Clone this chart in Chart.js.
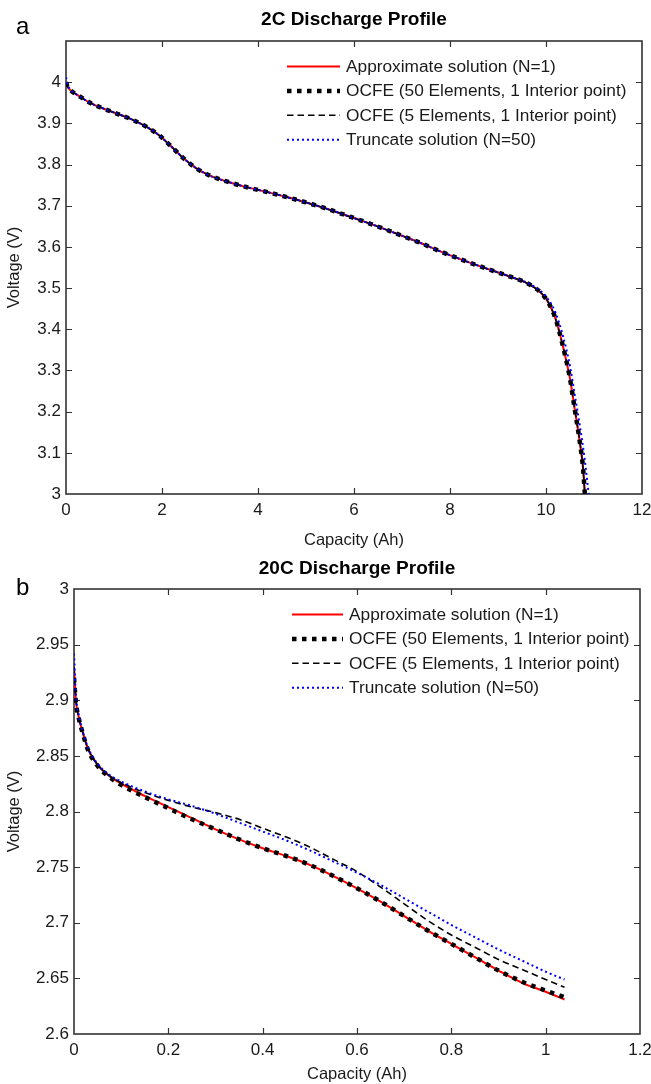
<!DOCTYPE html>
<html>
<head>
<meta charset="utf-8">
<script src="https://cdn.jsdelivr.net/npm/chart.js@4.4.1/dist/chart.umd.min.js"></script>
<style>
html,body{margin:0;padding:0;background:#fff;}
#wrap{position:relative;width:651px;height:1084px;overflow:hidden;background:#fff;}
#w1{position:absolute;left:0;top:0;width:651px;height:550px;}
#w2{position:absolute;left:0;top:550px;width:651px;height:534px;}
canvas{display:block;}
</style>
</head>
<body>
<div id="wrap">
  <div id="w1"><canvas id="c1" width="651" height="550"></canvas></div>
  <div id="w2"><canvas id="c2" width="651" height="534"></canvas></div>
</div>
<script>
// ---------- Panel a: 2C discharge ----------
const seriesNames = [
  'Approximate solution (N=1)',
  'OCFE (50 Elements, 1 Interior point)',
  'OCFE (5 Elements, 1 Interior point)',
  'Truncate solution (N=50)'
];

const a_x = [0, 0.03, 0.1, 0.25, 0.5, 0.8, 1.1, 1.4, 1.7, 1.95, 2.2, 2.45, 2.7, 3.0, 3.4, 3.8, 4.2, 4.6, 5.0, 5.4, 5.8, 6.2, 6.6, 7.0, 7.4, 7.8, 8.2, 8.6, 9.0, 9.3, 9.55, 9.75, 9.9, 10.05, 10.2, 10.35, 10.5, 10.6, 10.7, 10.77, 10.81];
const a_approx = [4.0, 3.99, 3.98, 3.968, 3.95, 3.935, 3.922, 3.908, 3.89, 3.87, 3.843, 3.815, 3.792, 3.773, 3.757, 3.744, 3.733, 3.721, 3.708, 3.694, 3.678, 3.662, 3.645, 3.627, 3.609, 3.589, 3.571, 3.554, 3.538, 3.526, 3.515, 3.502, 3.488, 3.465, 3.425, 3.36, 3.28, 3.205, 3.13, 3.065, 3.0];
const a_ocfe50 = [4.0, 3.99, 3.98, 3.968, 3.95, 3.935, 3.922, 3.908, 3.89, 3.87, 3.843, 3.815, 3.792, 3.773, 3.757, 3.744, 3.733, 3.721, 3.708, 3.694, 3.678, 3.662, 3.645, 3.627, 3.609, 3.589, 3.571, 3.554, 3.538, 3.526, 3.515, 3.502, 3.488, 3.465, 3.425, 3.36, 3.28, 3.205, 3.13, 3.065, 3.0];
const a_ocfe5 = [4.0, 3.99, 3.98, 3.968, 3.95, 3.935, 3.922, 3.908, 3.89, 3.87, 3.843, 3.815, 3.792, 3.773, 3.757, 3.744, 3.733, 3.721, 3.708, 3.694, 3.678, 3.662, 3.645, 3.627, 3.609, 3.589, 3.571, 3.554, 3.538, 3.526, 3.515, 3.502, 3.488, 3.465, 3.425, 3.36, 3.28, 3.205, 3.13, 3.065, 3.0];
const a_x_trunc = [0, 0.03, 0.1, 0.25, 0.5, 0.8, 1.1, 1.4, 1.7, 1.95, 2.2, 2.45, 2.7, 3.0, 3.4, 3.8, 4.2, 4.6, 5.0, 5.4, 5.8, 6.2, 6.6, 7.0, 7.4, 7.8, 8.2, 8.6, 9.0, 9.3, 9.55, 9.75, 9.9, 10.05, 10.2, 10.35, 10.5, 10.6, 10.7, 10.8, 10.86, 10.89];
const a_trunc = [4.012, 3.995, 3.981, 3.968, 3.95, 3.935, 3.922, 3.908, 3.89, 3.87, 3.843, 3.815, 3.792, 3.773, 3.757, 3.744, 3.733, 3.721, 3.708, 3.694, 3.678, 3.662, 3.645, 3.627, 3.609, 3.589, 3.571, 3.554, 3.538, 3.526, 3.516, 3.504, 3.492, 3.472, 3.44, 3.385, 3.31, 3.24, 3.17, 3.09, 3.03, 3.0];

const a_xTicks = [0, 2, 4, 6, 8, 10, 12];
const a_xTickLabels = ['0', '2', '4', '6', '8', '10', '12'];
const a_yTicks = [3, 3.1, 3.2, 3.3, 3.4, 3.5, 3.6, 3.7, 3.8, 3.9, 4];
const a_yTickLabels = ['3', '3.1', '3.2', '3.3', '3.4', '3.5', '3.6', '3.7', '3.8', '3.9', '4'];

// ---------- Panel b: 20C discharge ----------
const b_x = [0, 0.004, 0.01, 0.018, 0.03, 0.05, 0.075, 0.1, 0.15, 0.2, 0.25, 0.3, 0.35, 0.4, 0.45, 0.5, 0.55, 0.6, 0.65, 0.7, 0.75, 0.8, 0.85, 0.9, 0.95, 1.0, 1.04];
const b_approx = [2.93, 2.9, 2.885, 2.872, 2.856, 2.842, 2.832, 2.825, 2.814, 2.804, 2.794, 2.784, 2.775, 2.767, 2.76, 2.752, 2.742, 2.731, 2.719, 2.706, 2.693, 2.681, 2.669, 2.657, 2.646, 2.638, 2.631];
const b_ocfe50 = [2.92, 2.898, 2.884, 2.871, 2.855, 2.841, 2.831, 2.824, 2.813, 2.803, 2.793, 2.784, 2.775, 2.767, 2.76, 2.752, 2.742, 2.731, 2.719, 2.706, 2.693, 2.681, 2.669, 2.657, 2.647, 2.639, 2.633];
const b_ocfe5 = [2.93, 2.9, 2.885, 2.872, 2.856, 2.842, 2.832, 2.826, 2.817, 2.81, 2.804, 2.799, 2.793, 2.785, 2.777, 2.768, 2.757, 2.746, 2.732, 2.717, 2.702, 2.689, 2.678, 2.667, 2.658, 2.649, 2.642];
const b_trunc = [2.942, 2.905, 2.887, 2.873, 2.857, 2.843, 2.833, 2.827, 2.818, 2.811, 2.805, 2.798, 2.79, 2.782, 2.774, 2.765, 2.755, 2.745, 2.734, 2.722, 2.71, 2.698, 2.687, 2.676, 2.666, 2.656, 2.649];

const b_xTicks = [0, 0.2, 0.4, 0.6, 0.8, 1, 1.2];
const b_xTickLabels = ['0', '0.2', '0.4', '0.6', '0.8', '1', '1.2'];
const b_yTicks = [2.6, 2.65, 2.7, 2.75, 2.8, 2.85, 2.9, 2.95, 3];
const b_yTickLabels = ['2.6', '2.65', '2.7', '2.75', '2.8', '2.85', '2.9', '2.95', '3'];

// ---------- helpers ----------
const FAM = '"Liberation Sans", Arial, Helvetica, sans-serif';
const TXT = '#1a1a1a';
const AXC = '#333333';

function pts(xs, ys) { return xs.map((x, i) => ({ x: x, y: ys[i] })); }

const styles = [
  { borderColor: '#ff0000', borderWidth: 2, borderDash: [], order: 4 },
  { borderColor: '#000000', borderWidth: 4.5, borderDash: [4.5, 5.5], order: 3 },
  { borderColor: '#000000', borderWidth: 1.6, borderDash: [6.5, 4], order: 2 },
  { borderColor: '#0000ff', borderWidth: 2, borderDash: [2, 3], order: 1 }
];

function makeDatasets(list) {
  return list.map((d, i) => Object.assign({
    label: seriesNames[i],
    data: d,
    fill: false,
    pointRadius: 0,
    pointHoverRadius: 0,
    cubicInterpolationMode: 'monotone',
    borderCapStyle: 'butt',
    borderJoinStyle: 'round'
  }, styles[i]));
}

const framePlugin = {
  id: 'frame',
  beforeDatasetsDraw(chart, args, o) {
    const { ctx, chartArea: a } = chart;
    const xs = chart.scales.x, ys = chart.scales.y;
    ctx.save();
    ctx.strokeStyle = AXC;
    ctx.lineWidth = 1.2;
    ctx.beginPath();
    const L = 6;
    xs.ticks.forEach(t => {
      const p = Math.round(xs.getPixelForValue(t.value)) + 0.5;
      if (p <= a.left + 1 || p >= a.right - 1) return;
      ctx.moveTo(p, a.bottom); ctx.lineTo(p, a.bottom - L);
      ctx.moveTo(p, a.top); ctx.lineTo(p, a.top + L);
    });
    ys.ticks.forEach(t => {
      const p = Math.round(ys.getPixelForValue(t.value)) + 0.5;
      if (p <= a.top + 1 || p >= a.bottom - 1) return;
      ctx.moveTo(a.left, p); ctx.lineTo(a.left + L, p);
      ctx.moveTo(a.right, p); ctx.lineTo(a.right - L, p);
    });
    ctx.stroke();
    ctx.lineWidth = 1.6;
    ctx.strokeRect(a.left, a.top, a.right - a.left, a.bottom - a.top);
    ctx.restore();
  },
  afterDraw(chart, args, o) {
    const { ctx, chartArea: a } = chart;
    ctx.save();
    ctx.fillStyle = '#000';
    ctx.font = '24px ' + FAM;
    ctx.textAlign = 'left';
    ctx.textBaseline = 'alphabetic';
    ctx.fillText(o.letter, 16, o.letterY);
    ctx.font = '17.3px ' + FAM;
    ctx.textBaseline = 'middle';
    chart.data.datasets.forEach((ds, i) => {
      const y = a.top + o.rowTop + i * o.rowGap;
      ctx.save();
      ctx.strokeStyle = ds.borderColor;
      ctx.lineWidth = ds.borderWidth;
      ctx.setLineDash(ds.borderDash || []);
      ctx.lineCap = 'butt';
      ctx.beginPath();
      ctx.moveTo(o.sx0, y);
      ctx.lineTo(o.sx1, y);
      ctx.stroke();
      ctx.restore();
      ctx.fillStyle = TXT;
      ctx.fillText(ds.label, o.tx, y + 0.5);
    });
    ctx.restore();
  }
};

function makeChart(id, cfg) {
  return new Chart(document.getElementById(id), {
    type: 'line',
    data: { datasets: makeDatasets(cfg.series) },
    plugins: [framePlugin],
    options: {
      responsive: false,
      animation: false,
      devicePixelRatio: 1,
      events: [],
      layout: { padding: { left: 0, right: cfg.padRight, top: 0, bottom: 0 } },
      plugins: {
        legend: { display: false },
        tooltip: { enabled: false },
        title: {
          display: true,
          text: cfg.title,
          fullSize: false,
          color: '#000',
          font: { family: FAM, size: 19, weight: 'bold' },
          padding: { top: cfg.titlePadTop, bottom: cfg.titlePadBottom }
        },
        frame: cfg.frame
      },
      scales: {
        x: {
          type: 'linear',
          min: cfg.xmin, max: cfg.xmax,
          afterBuildTicks: s => { s.ticks = cfg.xTicks.map(v => ({ value: v })); },
          afterFit: s => { s.height = cfg.xHeight; s.paddingLeft = 0; s.paddingRight = 0; },
          grid: { display: false, drawTicks: false },
          border: { display: false },
          ticks: {
            autoSkip: false, maxRotation: 0, minRotation: 0,
            padding: 6, color: TXT,
            font: { family: FAM, size: 17 },
            callback: (v, i) => cfg.xLabels[i]
          },
          title: {
            display: true, text: 'Capacity (Ah)', color: TXT,
            font: { family: FAM, size: 16.5 },
            padding: { top: 0, bottom: 0 }
          }
        },
        y: {
          type: 'linear',
          min: cfg.ymin, max: cfg.ymax,
          afterBuildTicks: s => { s.ticks = cfg.yTicks.map(v => ({ value: v })); },
          afterFit: s => { s.width = cfg.yWidth; s.paddingTop = 0; s.paddingBottom = 0; },
          grid: { display: false, drawTicks: false },
          border: { display: false },
          ticks: {
            autoSkip: false, padding: 5, color: TXT,
            font: { family: FAM, size: 17 },
            callback: (v, i) => cfg.yLabels[i]
          },
          title: {
            display: true, text: 'Voltage (V)', color: TXT,
            font: { family: FAM, size: 16.5 },
            padding: { top: 5, bottom: 0 }
          }
        }
      }
    }
  });
}

makeChart('c1', {
  title: '2C Discharge Profile',
  series: [pts(a_x, a_approx), pts(a_x, a_ocfe50), pts(a_x, a_ocfe5), pts(a_x_trunc, a_trunc)],
  xmin: 0, xmax: 12, ymin: 3, ymax: 4.1,
  xTicks: a_xTicks, xLabels: a_xTickLabels, yTicks: a_yTicks, yLabels: a_yTickLabels,
  padRight: 9, yWidth: 66, xHeight: 56,
  titlePadTop: 8, titlePadBottom: 10.2,
  frame: { letter: 'a', letterY: 34, sx0: 287, sx1: 340, tx: 346, rowTop: 25.5, rowGap: 24.4 }
});

makeChart('c2', {
  title: '20C Discharge Profile',
  series: [pts(b_x, b_approx), pts(b_x, b_ocfe50), pts(b_x, b_ocfe5), pts(b_x, b_trunc)],
  xmin: 0, xmax: 1.2, ymin: 2.6, ymax: 3,
  xTicks: b_xTicks, xLabels: b_xTickLabels, yTicks: b_yTicks, yLabels: b_yTickLabels,
  padRight: 11, yWidth: 74, xHeight: 50,
  titlePadTop: 7.5, titlePadBottom: 8.7,
  frame: { letter: 'b', letterY: 45, sx0: 292, sx1: 343, tx: 349, rowTop: 25.5, rowGap: 24.4 }
});
</script>
</body>
</html>
